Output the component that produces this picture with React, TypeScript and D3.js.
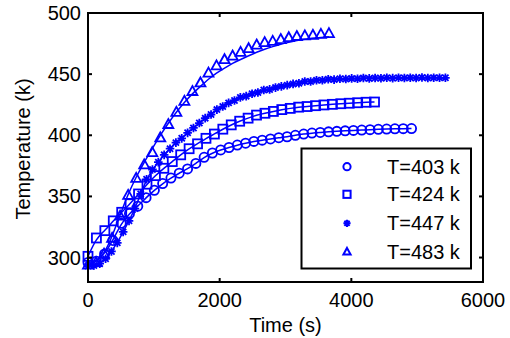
import React from "react";
import * as d3 from "d3";

const W = 510, H = 338;
const X_TICKS = [0, 2000, 4000, 6000];
const Y_TICKS = [300, 350, 400, 450, 500];
const LEGEND_LABELS = ["T=403 k", "T=424 k", "T=447 k", "T=483 k"];

// sampling steps (s) of each run
const STEP_403 = 126, STEP_424 = 128, STEP_447 = 89, STEP_483 = 122;

const temp403 = [296, 297, 303, 314, 328, 336, 342, 349, 355, 360.5, 365, 369, 372.5, 377, 382, 385.5, 388, 390, 392, 393.5, 395, 396, 397, 398, 398.8, 400, 401, 401.8, 402.3, 402.8, 403.2, 403.6, 404, 404.3, 404.6, 404.9, 405.1, 405.3, 405.4, 405.5];
const temp424 = [301, 316, 322, 330, 337, 344, 352, 360, 367, 373, 378.5, 384, 389, 393, 397.5, 401, 405, 408.5, 411.5, 414, 416.5, 418, 419.5, 421, 422, 423, 423.5, 424.2, 424.8, 425.3, 425.8, 426.2, 426.6, 427, 427.2];
const temp447 = [293, 293.5, 295, 299, 305, 312, 321, 330, 340, 352, 364, 372, 378, 384, 389, 394, 397.5, 402, 406, 410, 414, 417, 421, 423.5, 426.5, 428.5, 431, 432, 434, 435, 437, 437.5, 439, 440, 441, 442, 442.5, 444, 444, 445, 445, 445.8, 445.5, 446.2, 446, 446.5, 446.2, 446.8, 446.5, 446.8, 446.6, 447, 446.7, 447, 446.8, 447.1, 446.9, 447.2, 446.9, 447.1, 447, 447];
const temp483 = [294, 296, 303, 316, 334, 351, 365, 376, 386, 398, 409, 419, 428, 436, 443, 451, 457, 462, 465, 468, 471, 474, 476, 477, 478.5, 480, 481, 481.5, 482, 482.7, 483.3];
const fit483 = [294, 296, 303, 317, 335, 352, 366, 378, 389, 400, 410, 419, 427, 434, 440, 446, 451, 455, 459, 462, 465, 468, 470.5, 472.5, 474.5, 476, 477.5, 478.5, 479.5, 480, 480.5];

const BLUE = "#0000ff";

type Pt = [number, number];
const toPts = (vals: number[], step: number): Pt[] => vals.map((v, i) => [i * step, v]);

const series = [
  { key: "c", pts: toPts(temp403, STEP_403), fit: toPts(temp403, STEP_403) },
  { key: "s", pts: toPts(temp424, STEP_424), fit: toPts(temp424, STEP_424) },
  { key: "a", pts: toPts(temp447, STEP_447), fit: toPts(temp447, STEP_447) },
  { key: "t", pts: toPts(temp483, STEP_483), fit: toPts(fit483, STEP_483) },
];

function Marker({ kind, x, y, r, sw }: { kind: string; x: number; y: number; r: number; sw: number }) {
  if (kind === "c") return <circle cx={x} cy={y} r={r} fill="none" stroke={BLUE} strokeWidth={sw} />;
  if (kind === "s") return <rect x={x - r} y={y - r} width={2 * r} height={2 * r} fill="none" stroke={BLUE} strokeWidth={sw} />;
  if (kind === "t") {
    const p = `M${x},${y - r * 1.05}L${x + r},${y + r * 0.75}L${x - r},${y + r * 0.75}Z`;
    return <path d={p} fill="none" stroke={BLUE} strokeWidth={sw} />;
  }
  const d = r * 0.72;
  const p = `M${x - r},${y}L${x + r},${y}M${x},${y - r}L${x},${y + r}M${x - d},${y - d}L${x + d},${y + d}M${x - d},${y + d}L${x + d},${y - d}`;
  return <path d={p} fill="none" stroke={BLUE} strokeWidth={sw} />;
}

const SIZE: Record<string, number> = { c: 4.6, s: 4.5, a: 4.3, t: 5 };

export default function App() {
  const x = d3.scaleLinear().domain([0, 6000]).range([88, 483]);
  const y = d3.scaleLinear().domain([280, 500]).range([282, 13]);
  const line = d3.line<Pt>().x(d => x(d[0])).y(d => y(d[1])).curve(d3.curveBasis);
  const font = "Liberation Sans, Arial, sans-serif";
  const legendY = [166.7, 194.3, 223.3, 251.7];
  const kinds = ["c", "s", "a", "t"];
  return (
    <svg width={W} height={H} style={{ position: "fixed", left: 0, top: 0, background: "#fff" }} fontFamily={font}>
      <rect x={0} y={0} width={W} height={H} fill="#fff" />
      {series.map(s => (
        <path key={"l" + s.key} d={line(s.fit) || ""} fill="none" stroke={BLUE} strokeWidth={1.5} />
      ))}
      {series.map(s => (
        <g key={"m" + s.key}>
          {s.pts.map((p, i) => (
            <Marker key={i} kind={s.key} x={x(p[0])} y={y(p[1])} r={SIZE[s.key]} sw={1.8} />
          ))}
        </g>
      ))}
      {/* frame */}
      <rect x={88} y={13} width={395} height={269} fill="none" stroke="#000" strokeWidth={2} />
      {X_TICKS.map(t => (
        <g key={"xt" + t}>
          <line x1={x(t)} x2={x(t)} y1={282} y2={278} stroke="#000" strokeWidth={2} />
          <line x1={x(t)} x2={x(t)} y1={13} y2={17} stroke="#000" strokeWidth={2} />
          <text x={x(t)} y={307} fontSize={20} textAnchor="middle">{t}</text>
        </g>
      ))}
      {Y_TICKS.map(t => (
        <g key={"yt" + t}>
          <line x1={88} x2={92} y1={y(t)} y2={y(t)} stroke="#000" strokeWidth={2} />
          <line x1={483} x2={479} y1={y(t)} y2={y(t)} stroke="#000" strokeWidth={2} />
          <text x={81} y={y(t) + 7} fontSize={20} textAnchor="end">{t}</text>
        </g>
      ))}
      <text x={285.5} y={332} fontSize={20} textAnchor="middle">Time (s)</text>
      <text transform="translate(30,149) rotate(-90)" fontSize={20} textAnchor="middle">Temperature (k)</text>
      {/* legend */}
      <rect x={301.5} y={148.5} width={169.5} height={120} fill="#fff" stroke="#000" strokeWidth={2} />
      {LEGEND_LABELS.map((lab, i) => (
        <g key={lab}>
          <Marker kind={kinds[i]} x={347} y={legendY[i]} r={3.6} sw={2} />
          <text x={387} y={legendY[i] + 7} fontSize={20}>{lab}</text>
        </g>
      ))}
    </svg>
  );
}
